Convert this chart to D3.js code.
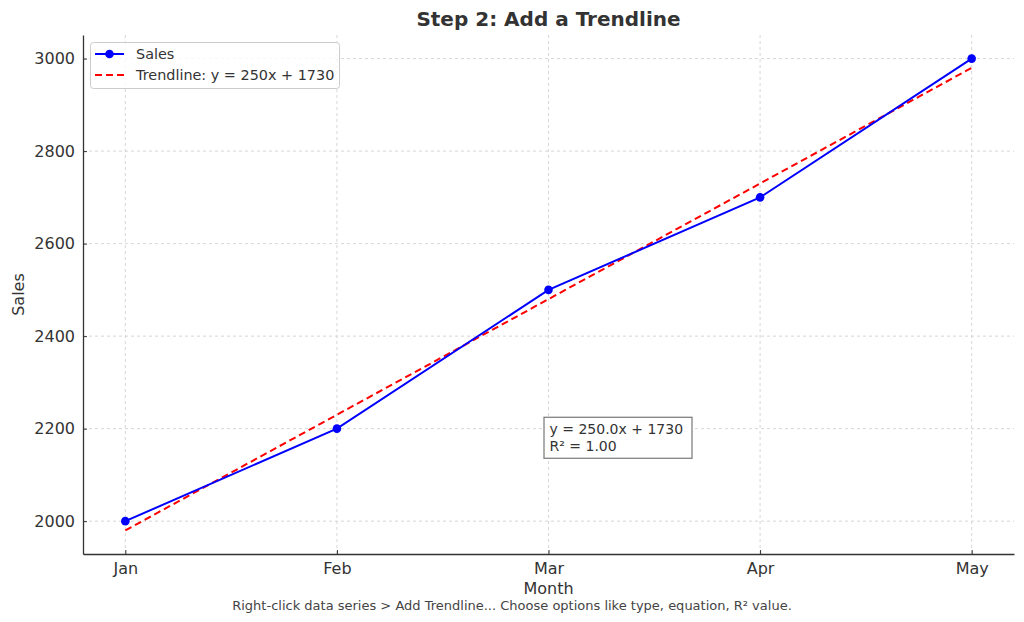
<!DOCTYPE html>
<html><head><meta charset="utf-8">
<script src="https://cdn.jsdelivr.net/npm/d3@7"></script>
<style>
body{margin:0;background:#fff;}
svg{display:block;font-family:"DejaVu Sans",sans-serif;}
</style></head><body>
<svg id="c" width="1024" height="622"></svg>
<script>
const months = ["Jan","Feb","Mar","Apr","May"];
const sales = [2000, 2200, 2500, 2700, 3000];
const trend = [1980, 2230, 2480, 2730, 2980];
const yTicks = [2000, 2200, 2400, 2600, 2800, 3000];
const titleText = "Step 2: Add a Trendline";
const xLabel = "Month", yLabel = "Sales";
const legendLabels = ["Sales", "Trendline: y = 250x + 1730"];
const annotLines = ["y = 250.0x + 1730", "R\u00b2 = 1.00"];
const footer = "Right-click data series > Add Trendline... Choose options like type, equation, R\u00b2 value.";

const svg = d3.select("#c");
const L=83, R=1014, T=35, B=554;
const x = d3.scaleLinear().domain([-0.2, 4.2]).range([L, R]);
const y = d3.scaleLinear().domain([1929, 3051]).range([B, T]);
const txt = "#333";
const FF = "DejaVu Sans";

// grid
const g = svg.append("g");
g.selectAll(".gx").data(months).join("line")
  .attr("x1",(d,i)=>x(i)).attr("x2",(d,i)=>x(i)).attr("y1",T).attr("y2",B)
  .attr("stroke","#ccc").attr("stroke-width",0.8).attr("stroke-dasharray","3,3");
g.selectAll(".gy").data(yTicks).join("line")
  .attr("x1",L).attr("x2",R).attr("y1",d=>y(d)).attr("y2",d=>y(d))
  .attr("stroke","#ccc").attr("stroke-width",0.8).attr("stroke-dasharray","3,3");

// axes
const xAxis = svg.append("g").attr("transform",`translate(0,${B})`)
  .call(d3.axisBottom(x).tickValues(months.map((d,i)=>i)).tickFormat(i=>months[i]).tickSizeInner(-4).tickSizeOuter(0).tickPadding(8));
const yAxis = svg.append("g").attr("transform",`translate(${L},0)`)
  .call(d3.axisLeft(y).tickValues(yTicks).tickFormat(d3.format("d")).tickSizeInner(-4).tickSizeOuter(0).tickPadding(8));
[xAxis,yAxis].forEach(a=>{
  a.attr("font-family",FF);
  a.select(".domain").attr("stroke","#333").attr("stroke-width",1.3);
  a.selectAll(".tick line").attr("stroke","#333");
  a.selectAll(".tick text").attr("fill",txt).attr("font-size",16).attr("font-family",FF);
});
xAxis.selectAll(".tick text").attr("dy","0.75em");

// lines
const xi = (d,i)=>x(i);
svg.append("path").datum(trend)
  .attr("d", d3.line().x(xi).y(d=>y(d)))
  .attr("fill","none").attr("stroke","#ff0000").attr("stroke-width",2).attr("stroke-dasharray","7,4");
svg.append("path").datum(sales)
  .attr("d", d3.line().x(xi).y(d=>y(d)))
  .attr("fill","none").attr("stroke","#0000ff").attr("stroke-width",2);
svg.selectAll(".pt").data(sales).join("circle")
  .attr("cx",xi).attr("cy",d=>y(d)).attr("r",4.3).attr("fill","#0000ff");

// title & labels
svg.append("text").attr("x",(L+R)/2).attr("y",26).attr("text-anchor","middle")
  .attr("font-size",20).attr("font-weight","bold").attr("fill",txt).text(titleText);
svg.append("text").attr("x",(L+R)/2).attr("y",594).attr("text-anchor","middle")
  .attr("font-size",16).attr("fill",txt).text(xLabel);
svg.append("text").attr("transform",`translate(24,${(T+B)/2}) rotate(-90)`).attr("text-anchor","middle")
  .attr("font-size",16).attr("fill",txt).text(yLabel);
svg.append("text").attr("x",512).attr("y",610).attr("text-anchor","middle")
  .attr("font-size",13).attr("fill","#444").text(footer);

// legend
const lg = svg.append("g");
lg.append("rect").attr("x",90.5).attr("y",42.5).attr("width",249).attr("height",46).attr("rx",3)
  .attr("fill","#fff").attr("fill-opacity",0.8).attr("stroke","#ccc");
lg.append("line").attr("x1",95).attr("x2",124).attr("y1",54).attr("y2",54).attr("stroke","#0000ff").attr("stroke-width",2);
lg.append("circle").attr("cx",109.5).attr("cy",54).attr("r",4.3).attr("fill","#0000ff");
lg.append("line").attr("x1",95).attr("x2",124).attr("y1",75).attr("y2",75).attr("stroke","#ff0000").attr("stroke-width",2).attr("stroke-dasharray","7,4");
lg.selectAll(".lt").data(legendLabels).join("text")
  .attr("x",136).attr("y",(d,i)=>59+i*21).attr("font-size",14.4).attr("fill",txt).text(d=>d);

// annotation
const ax = x(2), ay = y(2150);
const an = svg.append("g");
an.append("rect").attr("x",ax-4.5).attr("y",ay-34.5).attr("width",148).attr("height",41)
  .attr("fill","#fff").attr("stroke","#777").attr("stroke-width",1.2);
an.selectAll("text").data(annotLines).join("text")
  .attr("x",ax+1).attr("y",(d,i)=>ay-18+i*17).attr("font-size",14).attr("fill",txt).text(d=>d);
</script>
</body></html>
